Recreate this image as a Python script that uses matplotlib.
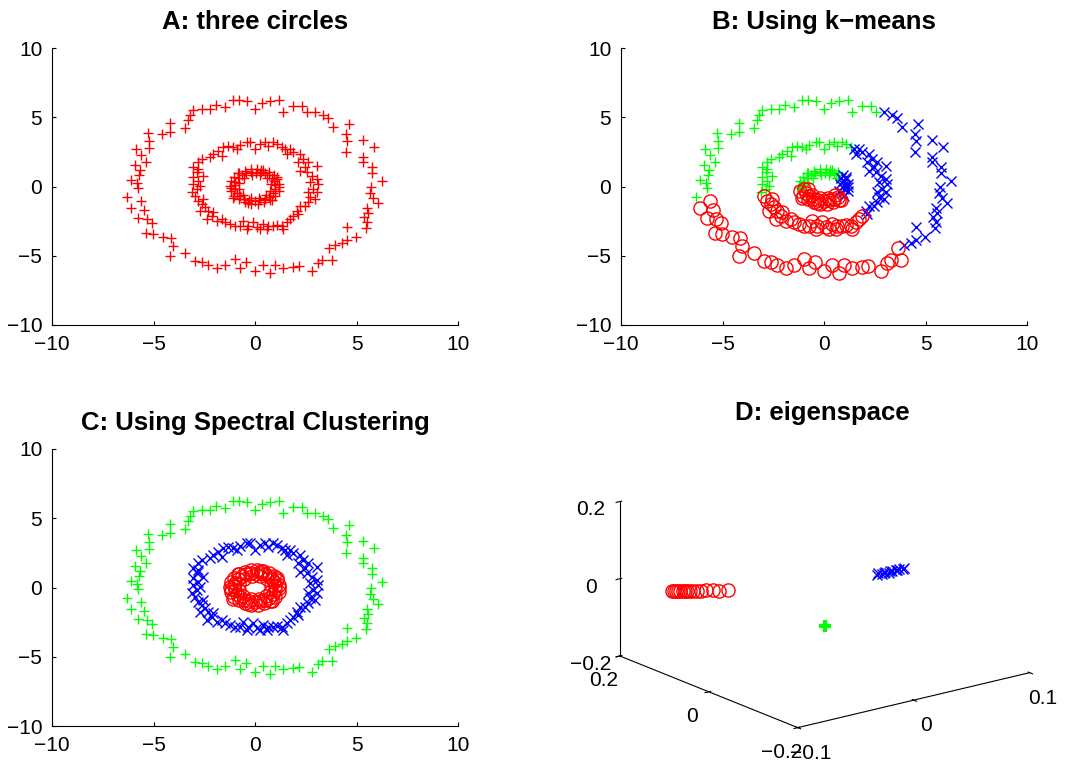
import numpy as np
import matplotlib
matplotlib.use("Agg")
import matplotlib.pyplot as plt
from matplotlib.ticker import FuncFormatter

plt.rcParams['font.family'] = ['Liberation Sans', 'DejaVu Sans']
plt.rcParams['axes.unicode_minus'] = True

# ---------------- data ----------------
outer_x = [-1.07, -0.77, -0.41, 0.36, 0.0, 0.74, 1.20, 1.36, 1.86, 2.30, 2.55, 2.96, 3.33, 3.61, 3.86,
           4.63, 4.48, 4.55, 5.30, 5.88, 4.47, 5.30, 5.34, 5.75, 5.75, 6.24, 5.70, 5.66, 5.83, 6.08,
           5.50, 5.58, 5.39, 5.50, 5.47, 4.55, 4.98, 4.52, 4.27, 3.94, 3.66, 3.81, 3.28, 3.12, 2.82,
           2.18, 1.89, 1.40, 0.99, 0.74, 0.38, 0.0, -0.44, -0.74, -0.99, -1.48, -1.89, -2.30, -2.63,
           -2.96, -3.45, -4.19, -4.06, -4.15, -4.55, -5.01, -5.39, -5.09, -5.34, -5.78, -5.45, -6.11,
           -5.63, -6.29, -5.78, -5.83, -6.12, -5.70, -5.91, -5.66, -5.37, -5.62, -5.86, -5.21, -5.21,
           -5.29, -4.56, -4.19, -4.19, -3.45, -3.28, -3.20, -3.04, -2.63, -2.22, -1.92, -1.48]
outer_y = [6.25, 6.25, 6.20, 6.00, 5.57, 6.20, 6.25, 5.40, 5.81, 5.81, 5.40, 5.40, 5.16, 4.92, 4.32,
           4.49, 3.77, 3.29, 3.36, 2.88, 2.52, 2.11, 1.79, 1.43, 0.95, 0.42, -0.06, -0.49, -0.85, -1.22,
           -1.58, -1.94, -2.18, -2.54, -3.02, -2.90, -3.62, -3.86, -4.10, -4.22, -4.46, -5.31, -5.31,
           -5.55, -6.08, -5.74, -5.79, -5.91, -5.67, -6.27, -5.67, -6.08, -5.43, -5.91, -5.23, -5.67,
           -5.91, -5.67, -5.43, -5.35, -4.83, -5.02, -4.27, -3.74, -3.62, -3.45, -3.38, -2.66, -2.37,
           -2.30, -1.70, -1.53, -1.05, -0.73, -0.13, 0.23, 0.47, 0.83, 1.55, 1.19, 1.79, 2.27, 2.71,
           2.80, 3.29, 3.84, 3.77, 3.96, 4.56, 4.20, 4.80, 5.16, 5.52, 5.57, 5.57, 5.89, 5.72]

middle_x = [-1.56, -1.31, -1.07, -0.74, -0.41, -0.25, 0.0, 0.25, 0.49, 0.66, 0.90, 1.07, 1.31, 1.48,
            1.72, 1.89, 2.22, 2.38, 2.13, 2.63, 3.04, 2.22, 2.55, 2.79, 3.04, 2.71, 3.12, 2.87, 2.63,
            3.04, 2.71, 2.63, 2.46, 2.22, 2.05, 1.89, 1.72, 1.56, 1.31, 1.40, 1.07, 0.90, 0.66, 0.41,
            0.25, 0.08, -0.08, -0.33, -0.57, -0.74, -0.99, -1.23, -1.48, -1.64, -1.89, -2.13, -2.05,
            -2.30, -2.46, -2.63, -2.79, -2.96, -3.12, -2.87, -3.04, -2.79, -3.04, -2.87, -3.04, -2.79,
            -2.63, -2.22, -2.05, -1.81, -1.64, -2.71, -2.55, -2.71, -2.38, -0.90, 1.56, 2.46, 2.96,
            2.13, -0.41, 0.57, -2.55, -2.79]
middle_y = [2.83, 2.95, 2.83, 3.00, 3.24, 3.19, 2.71, 3.07, 3.19, 2.95, 3.19, 3.07, 2.83, 2.71, 2.71,
            2.47, 2.35, 1.99, 1.74, 1.74, 1.50, 1.14, 1.02, 0.78, 0.54, 0.30, 0.18, -0.18, -0.42,
            -0.42, -0.78, -1.14, -1.38, -1.38, -1.74, -2.11, -2.35, -2.59, -2.83, -3.07, -2.78, -2.83,
            -2.83, -2.71, -3.07, -2.95, -2.59, -2.83, -2.47, -2.83, -2.83, -2.71, -2.59, -2.35, -2.47,
            -2.11, -1.87, -1.74, -1.50, -1.26, -1.02, -0.66, -0.42, -0.18, 0.18, 0.42, 0.66, 1.02,
            1.38, 1.74, 1.99, 2.11, 2.35, 2.59, 2.23, 0.06, 0.78, -1.74, -2.35, 2.71, 2.35, 1.38,
            -0.90, -1.99, -3.07, -3.07, -0.90, 1.26]

inner_x = [1.0, 0.95, 0.85, 0.7, 0.5, 0.3, 0.05, -0.2, -0.45, -0.65, -0.85, -1.0, -1.05, -1.0, -0.9,
           -0.75, -0.55, -0.3, 0.0, 0.25, 0.5, 0.7, 0.9, 1.0, 1.2, 1.1, 0.95, 0.7, 0.4, 0.1, -0.2,
           -0.5, -0.8, -1.05, -1.2, -1.25, -1.2, -1.05, -0.8, -0.5, -0.2, 0.15, 0.45, 0.75, 1.0, 1.2,
           0.8, 0.75, 0.6, 0.25, -0.15, -0.55, -0.8, -0.8, -0.6, -0.2, 0.2, 0.55, 1.2, -1.2, 0.3,
           -0.35, 1.1, -1.1, -0.85, 0.85]
inner_y = [0.1, 0.4, 0.6, 0.8, 0.95, 1.05, 1.0, 1.05, 0.95, 0.8, 0.6, 0.35, 0.1, -0.2, -0.45, -0.7,
           -0.9, -1.0, -1.05, -1.0, -0.9, -0.75, -0.5, -0.2, 0.2, 0.55, 0.85, 1.05, 1.2, 1.25, 1.25,
           1.15, 0.95, 0.7, 0.4, 0.05, -0.3, -0.65, -0.9, -1.15, -1.25, -1.25, -1.15, -0.95, -0.7,
           -0.35, 0.2, -0.3, 0.6, 0.8, 0.8, 0.6, 0.25, -0.2, -0.6, -0.8, -0.8, -0.6, -0.05, -0.1, 1.2,
           -1.2, 0.7, -0.8, 0.95, -0.95]

# k-means result: the three clusters split the plane at a common vertex
kmeans_vertex = (0.4, 0.05)
kmeans_bounds_deg = {'blue_red': -52.0, 'green_blue': 68.0, 'green_red': 189.0}

# eigenspace coordinates (3 leading eigenvectors)
eig_red_x = [-0.088, -0.087, -0.086, -0.085, -0.084, -0.082, -0.081, -0.080, -0.078, -0.076,
             -0.074, -0.072, -0.069, -0.065, -0.062, -0.057]
eig_red_y = [0.113, 0.112, 0.110, 0.109, 0.107, 0.105, 0.104, 0.101, 0.099, 0.097, 0.094, 0.091,
             0.087, 0.081, 0.076, 0.070]
eig_red_z = [0.0] * 16
eig_blue_x = [0.019, 0.021, 0.023, 0.025, 0.027, 0.029, 0.031, 0.033, 0.035, 0.037, 0.039, 0.041, 0.043]
eig_blue_y = [-0.067, -0.066, -0.068, -0.067, -0.066, -0.068, -0.067, -0.066, -0.068, -0.067,
              -0.066, -0.068, -0.067]
eig_blue_z = [0.050, 0.052, 0.049, 0.051, 0.050, 0.048, 0.051, 0.050, 0.052, 0.049, 0.051, 0.050, 0.050]
eig_green_x = [0.0]
eig_green_y = [0.0]
eig_green_z = [-0.1]

ticks2d = [-10, -5, 0, 5, 10]
eig_xticks = [-0.1, 0, 0.1]
eig_yticks = [-0.2, 0, 0.2]
eig_zticks = [-0.2, 0, 0.2]
titles = ['A: three circles', 'B: Using k\u2212means', 'C: Using Spectral Clustering', 'D: eigenspace']

RED, GREEN, BLUE = '#ff0000', '#00ff00', '#0000ff'
TITLE_FS = 18.5

# ---------------- figure ----------------
W, H = 1073, 763
fig = plt.figure(figsize=(W / 100, H / 100), dpi=100)

def px_axes(l, t, r, b, **kw):
    return fig.add_axes([l / W, 1 - b / H, (r - l) / W, (b - t) / H], **kw)

def style2d(ax, title):
    ax.set_xlim(-10, 10)
    ax.set_ylim(-10, 10)
    ax.set_xticks(ticks2d)
    ax.set_yticks(ticks2d)
    for s in ('top', 'right'):
        ax.spines[s].set_visible(False)
    for s in ('left', 'bottom'):
        ax.spines[s].set_linewidth(0.8)
    ax.tick_params(direction='in', length=3, width=0.8, labelsize=15, pad=7)
    ax.set_title(title, fontsize=TITLE_FS, fontweight='bold', pad=14)

ms_plus, ms_x, ms_o = 7.5, 6.5, 9.5

all_x = np.array(outer_x + middle_x + inner_x)
all_y = np.array(outer_y + middle_y + inner_y)

# A
axA = px_axes(52, 48, 458, 325)
axA.plot(all_x, all_y, '+', color=RED, ms=ms_plus, mew=1.0)
style2d(axA, titles[0])

# B: k-means
ang = np.degrees(np.arctan2(all_y - kmeans_vertex[1], all_x - kmeans_vertex[0]))
ang = np.where(ang < kmeans_bounds_deg['blue_red'], ang + 360, ang)
is_blue = ang < kmeans_bounds_deg['green_blue']
is_green = (~is_blue) & (ang < kmeans_bounds_deg['green_red'])
is_red = ~(is_blue | is_green)
axB = px_axes(621, 48, 1027, 325)
axB.plot(all_x[is_green], all_y[is_green], '+', color=GREEN, ms=ms_plus, mew=1.0)
axB.plot(all_x[is_blue], all_y[is_blue], 'x', color=BLUE, ms=ms_x, mew=1.0)
axB.plot(all_x[is_red], all_y[is_red], 'o', mfc='none', mec=RED, ms=ms_o, mew=1.0)
style2d(axB, titles[1])

# C: spectral clustering
axC = px_axes(52, 449, 458, 726)
axC.plot(outer_x, outer_y, '+', color=GREEN, ms=ms_plus, mew=1.0)
axC.plot(middle_x, middle_y, 'x', color=BLUE, ms=ms_x, mew=1.0)
axC.plot(inner_x, inner_y, 'o', mfc='none', mec=RED, ms=ms_o, mew=1.0)
style2d(axC, titles[2])

# D: eigenspace (3D)
axD = fig.add_axes([0.4977, -0.0596, 0.531, 0.565], projection='3d')
axD.set_proj_type('ortho')
axD.view_init(elev=18, azim=-127.5)
axD.set_box_aspect((1.8, 1.8, 1.0))
axD.plot(eig_red_x, eig_red_y, eig_red_z, 'o', mfc='none', mec=RED, ms=ms_o, mew=1.0)
axD.plot(eig_blue_x, eig_blue_y, eig_blue_z, 'x', color=BLUE, ms=ms_x, mew=1.0)
axD.plot(eig_green_x, eig_green_y, eig_green_z, '+', color=GREEN, ms=9, mew=3)
axD.set_xlim(-0.1, 0.1)
axD.set_ylim(-0.2, 0.2)
axD.set_zlim(-0.2, 0.2)
axD.set_xticks(eig_xticks)
axD.set_yticks(eig_yticks)
axD.set_zticks(eig_zticks)
fmt = FuncFormatter(lambda v, p: ('%g' % v).replace('-', '\u2212'))
for a in (axD.xaxis, axD.yaxis, axD.zaxis):
    a.set_major_formatter(fmt)
    a.set_pane_color((1, 1, 1, 0))
    a.pane.set_edgecolor((1, 1, 1, 0))
    a.line.set_color('black')
    a.line.set_linewidth(0.8)
axD.grid(False)
axD.tick_params(labelsize=15)
fig.text(822 / W, 1 - 413 / H, titles[3], fontsize=TITLE_FS, fontweight='bold',
         ha='center', va='center')

fig.savefig('out.png', dpi=100)
